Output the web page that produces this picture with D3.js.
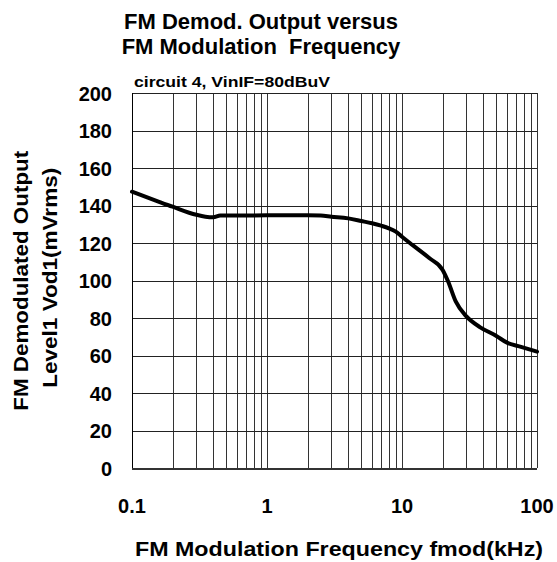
<!DOCTYPE html>
<html>
<head>
<meta charset="utf-8">
<script src="https://cdn.jsdelivr.net/npm/d3@7"></script>
<style>
  html, body { margin: 0; padding: 0; background: #fff; }
  svg { display: block; }
  text { font-family: "Liberation Sans", Arial, sans-serif; font-weight: bold; fill: #000; }
</style>
</head>
<body>
<script>
// ---- data ----
const freqKHz = [0.1, 0.15, 0.2, 0.3, 0.35, 0.4, 0.45, 0.5, 1, 2, 2.5, 3, 4, 5, 6, 7, 8, 9, 10, 12, 16, 20, 22, 25, 30, 38, 50, 60, 75, 100];
const vodMv   = [147.5, 142.8, 139.5, 135.2, 134.2, 133.9, 134.8, 134.8, 134.9, 134.9, 134.8, 134.2, 133.3, 131.9, 130.7, 129.4, 128, 126.2, 123.5, 119, 112, 105.8, 99.5, 89, 81, 75.2, 70.6, 67, 64.9, 62.2];
const yTicks = [0, 20, 40, 60, 80, 100, 120, 140, 160, 180, 200];
const xTicks = [0.1, 1, 10, 100];
const xTickLabels = ["0.1", "1", "10", "100"];
const titleLines = ["FM Demod. Output versus", "FM Modulation  Frequency"];
const subtitle = "circuit 4, VinIF=80dBuV";
const xTitle = "FM Modulation Frequency fmod(kHz)";
const yTitleLines = ["FM Demodulated Output", "Level1 Vod1(mVrms)"];

// ---- layout ----
const W = 557, H = 562;
const L = 132, R = 537, T = 93.3, B = 468.3;

const svg = d3.select("body").append("svg").attr("width", W).attr("height", H);

const x = d3.scaleLog().domain([0.1, 100]).range([L, R]);
const y = d3.scaleLinear().domain([0, 200]).range([B, T]);

// minor + major vertical grid
const vGrid = [];
[0.1, 1, 10].forEach(dec => { for (let k = 1; k <= 9; k++) vGrid.push(+(dec * k).toPrecision(3)); });
vGrid.push(100);

const grid = svg.append("g").attr("shape-rendering", "crispEdges");
grid.selectAll("line.v").data(vGrid).join("line")
  .attr("x1", d => Math.round(x(d)) + 0.5).attr("x2", d => Math.round(x(d)) + 0.5)
  .attr("y1", y(200)).attr("y2", y(0))
  .attr("stroke", "#333").attr("stroke-width", 1);
grid.selectAll("line.h").data(yTicks).join("line")
  .attr("x1", L).attr("x2", R)
  .attr("y1", d => Math.round(y(d)) + 0.5).attr("y2", d => Math.round(y(d)) + 0.5)
  .attr("stroke", "#222").attr("stroke-width", 1);

// axes lines
svg.append("line").attr("x1", Math.round(L) + 0.5).attr("x2", Math.round(L) + 0.5)
  .attr("y1", y(200)).attr("y2", y(0)).attr("stroke", "#000").attr("stroke-width", 1)
  .attr("shape-rendering", "crispEdges");
svg.append("line").attr("x1", L).attr("x2", R)
  .attr("y1", Math.round(y(0)) + 0.5).attr("y2", Math.round(y(0)) + 0.5)
  .attr("stroke", "#333").attr("stroke-width", 2).attr("shape-rendering", "crispEdges");

// y tick labels
svg.append("g").selectAll("text").data(yTicks).join("text")
  .attr("x", 112).attr("y", d => y(d)).attr("dy", "0.36em")
  .attr("text-anchor", "end").attr("font-size", 20)
  .text(d => d);

// x tick labels
svg.append("g").selectAll("text").data(xTicks).join("text")
  .attr("x", d => x(d)).attr("y", 513)
  .attr("text-anchor", "middle").attr("font-size", 20)
  .text((d, i) => xTickLabels[i]);

// curve
const line = d3.line()
  .x((d, i) => x(freqKHz[i]))
  .y(d => y(d))
  .curve(d3.curveMonotoneX);
svg.append("path").datum(vodMv)
  .attr("d", line)
  .attr("fill", "none").attr("stroke", "#000")
  .attr("stroke-width", 4).attr("stroke-linejoin", "round").attr("stroke-linecap", "round");

// titles
svg.append("text").attr("x", 261).attr("y", 28.5).attr("text-anchor", "middle")
  .attr("font-size", 22).style("white-space", "pre").text(titleLines[0]);
svg.append("text").attr("x", 261).attr("y", 53.5).attr("text-anchor", "middle")
  .attr("font-size", 22).style("white-space", "pre").text(titleLines[1]);
svg.append("text").attr("x", 134).attr("y", 86.5)
  .attr("font-size", 14.5).attr("textLength", 196).attr("lengthAdjust", "spacingAndGlyphs")
  .text(subtitle);

// x title
svg.append("text").attr("x", 339).attr("y", 556).attr("text-anchor", "middle")
  .attr("font-size", 21).attr("textLength", 408).attr("lengthAdjust", "spacingAndGlyphs")
  .text(xTitle);

// y title
const cy = (T + B) / 2;
svg.append("text").attr("transform", `translate(27.5,${cy}) rotate(-90)`)
  .attr("text-anchor", "middle").attr("font-size", 21)
  .attr("textLength", 260).attr("lengthAdjust", "spacingAndGlyphs")
  .text(yTitleLines[0]);
svg.append("text").attr("transform", `translate(57,${cy - 3}) rotate(-90)`)
  .attr("text-anchor", "middle").attr("font-size", 21)
  .attr("textLength", 220).attr("lengthAdjust", "spacingAndGlyphs")
  .text(yTitleLines[1]);
</script>
</body>
</html>
